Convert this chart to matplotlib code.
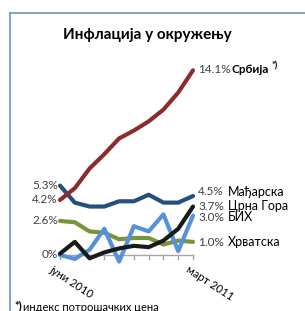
import matplotlib
matplotlib.use("Agg")
import matplotlib.pyplot as plt
from matplotlib.lines import Line2D

plt.rcParams['font.family'] = ['Lato', 'Noto Sans', 'DejaVu Sans']

months = ["јуни 2010", "јул", "авг", "сеп", "окт", "нов", "дец", "јан", "феб", "март 2011"]
srbija = [4.2, 5.1, 6.6, 7.7, 8.9, 9.5, 10.2, 11.1, 12.4, 14.1]
madjarska = [5.3, 4.0, 3.7, 3.7, 4.1, 4.1, 4.6, 4.0, 4.0, 4.5]
hrvatska = [2.6, 2.5, 1.8, 1.7, 1.2, 1.3, 1.3, 0.8, 1.1, 1.0]
crna_gora = [0.1, 1.0, -0.25, 0.2, 0.5, 0.7, 0.6, 1.1, 2.0, 3.7]
bih = [0.0, -0.3, 0.4, 2.0, -0.5, 2.2, 1.8, 3.1, 0.3, 3.0]

names = ["Србија", "Мађарска", "Црна Гора", "БИХ", "Хрватска"]
series = [srbija, madjarska, crna_gora, bih, hrvatska]
colors = ["#8c2d2d", "#254f80", "#1a1a1a", "#5592d8", "#77963a"]
start_labels = ["4.2%", "5.3%", "", "", "2.6%"]
end_labels = ["14.1%", "4.5%", "3.7%", "3.0%", "1.0%"]
end_offsets = [1, 4.5, 0.5, -1.3, -0.5]  # px vertical nudges of right labels
name_offsets = [39, 35, 35, 35, 35]

W, H = 305, 311
fig = plt.figure(figsize=(W / 100, H / 100), dpi=100)
fig.patch.set_facecolor("white")

# axes: x 0..9 -> px 60..193 ; y: 0 at px 255, 13.1 px per %
ymin, ymax = -1.0, 14.5
ppu = 13.1
y0 = 255
bot = H - (y0 + (-ymin) * ppu)
top = H - (y0 - ymax * ppu)
ax = fig.add_axes([60 / W, bot / H, (193 - 60) / W, (top - bot) / H])
ax.set_xlim(0, 9)
ax.set_ylim(ymin, ymax)
ax.axis("off")

x = list(range(len(months)))
# x axis line with ticks
ax.plot([0, 9], [0, 0], color="#a6a6a6", lw=1.0, clip_on=False, zorder=1)
for xi in x:
    ax.plot([xi, xi], [0, -4 / ppu], color="#a6a6a6", lw=1.0, clip_on=False, zorder=1)

order = [4, 3, 2, 1, 0]
for i in order:
    ax.plot(x, series[i], color=colors[i], lw=3.0, solid_joinstyle="round",
            solid_capstyle="round", clip_on=False, zorder=3)

txtc = "#404040"
for i in range(len(series)):
    if start_labels[i]:
        ax.annotate(start_labels[i], xy=(0, series[i][0]), xytext=(-2, 0),
                    textcoords="offset pixels", ha="right", va="center",
                    fontsize=8.5, color=txtc)
ax.annotate("0%", xy=(0, 0), xytext=(-2, 0), textcoords="offset pixels",
            ha="right", va="center", fontsize=8.5, color=txtc)

for i in range(len(series)):
    ax.annotate(end_labels[i], xy=(9, series[i][-1]), xytext=(5, end_offsets[i]),
                textcoords="offset pixels", ha="left", va="center",
                fontsize=8.5, color=txtc)
    bold = (i == 0)
    ax.annotate(names[i], xy=(9, series[i][-1]), xytext=(name_offsets[i], end_offsets[i]),
                textcoords="offset pixels", ha="left", va="center",
                fontsize=8.5 if bold else 9, color="black",
                fontweight="bold" if bold else "normal")
ax.annotate("*)", xy=(9, srbija[-1]), xytext=(79, 4), textcoords="offset pixels",
            ha="left", va="center", fontsize=6.5, fontweight="bold", color="black")

# category labels (first & last)
ax.annotate(months[0], xy=(0, 0), xytext=(-7, -9), textcoords="offset pixels",
            ha="left", va="top", rotation=-33, rotation_mode="anchor",
            fontsize=8, color="black")
ax.annotate(months[-1], xy=(9, 0), xytext=(-3, -9), textcoords="offset pixels",
            ha="left", va="top", rotation=-33, rotation_mode="anchor",
            fontsize=8, color="black")

# title
fig.text(147 / W, 1 - 35 / H, "Инфлација у окружењу", ha="center", va="center",
         fontsize=11, fontweight="bold", color="black")

# footnote (partially cut off at the bottom edge, as in the original)
fig.text(14 / W, 1 - 300 / H, "*)", ha="left", va="top", fontsize=8, color="black",
         fontweight="bold")
fig.text(23 / W, 1 - 302 / H, "индекс потрошачких цена", ha="left", va="top",
         fontsize=8, color="black")

# frame
fc = "#7d9cc0"
fig.add_artist(Line2D([9.5 / W, 1], [1 - 13 / H, 1 - 13 / H], color=fc, lw=1.3,
                      transform=fig.transFigure))
fig.add_artist(Line2D([9.5 / W, 9.5 / W], [0, 1 - 13 / H], color=fc, lw=1.3,
                      transform=fig.transFigure))

fig.savefig("out.png", dpi=100, facecolor="white")
